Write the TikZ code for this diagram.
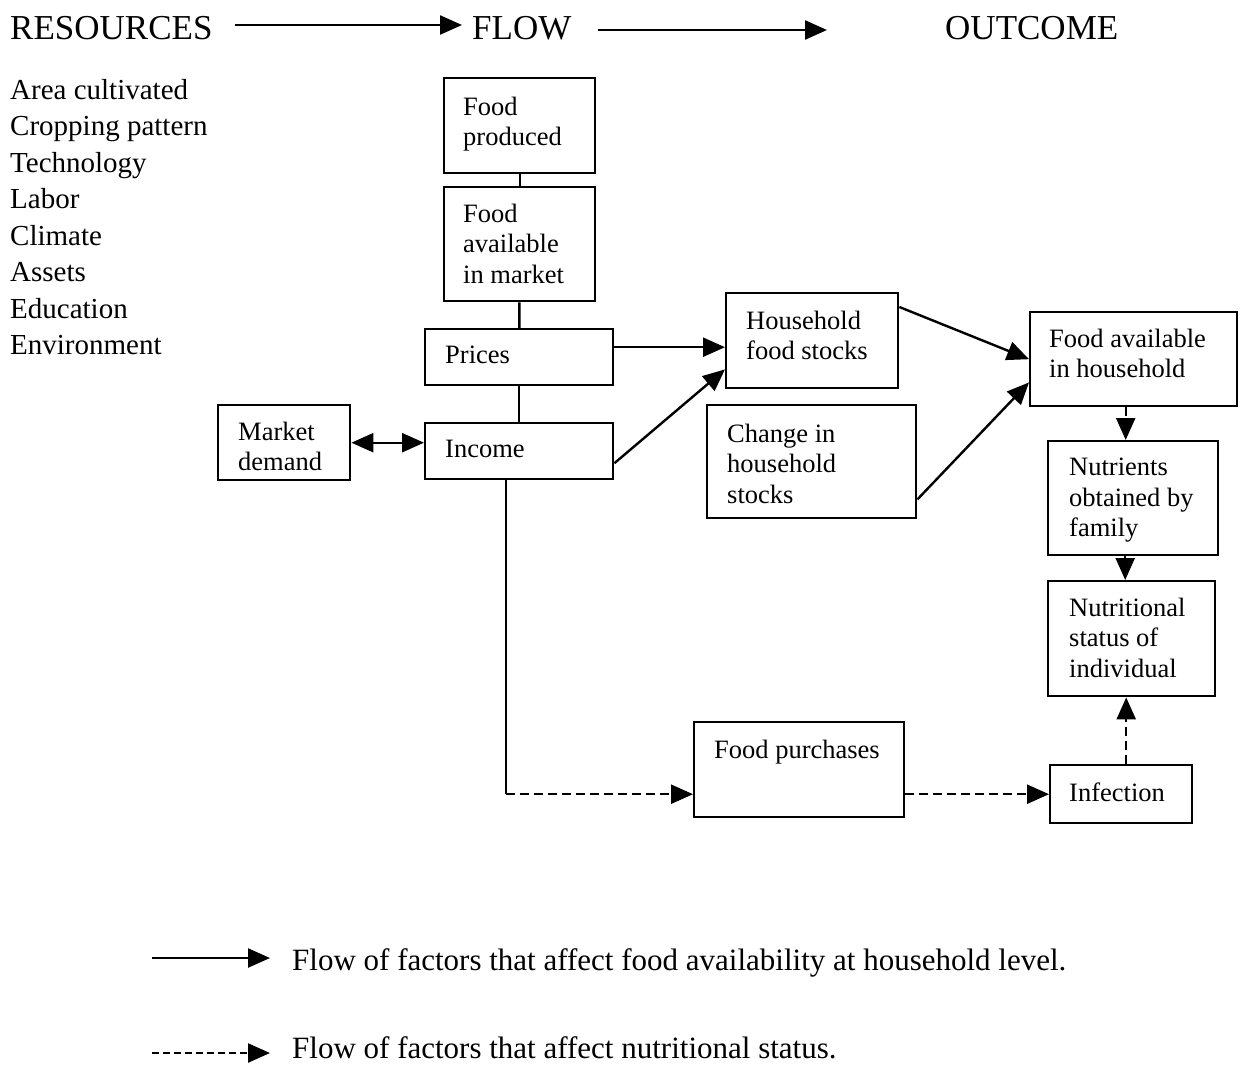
\documentclass[tikz,border=0pt]{standalone}
\usepackage{fontspec}
\setmainfont{Liberation Serif}
\usetikzlibrary{arrows.meta}
\tikzset{
  box/.style={draw, line width=2.4pt, rectangle, inner sep=0pt, anchor=north west},
  btxt/.style={anchor=north west, inner sep=0pt, align=left, font=\fontsize{26.5}{30.3}\selectfont},
  ln/.style={line width=2.4pt},
  arr/.style={line width=2.4pt, -{Triangle[length=22pt,width=19pt]}},
  arrtwo/.style={line width=2.4pt, {Triangle[length=22pt,width=19pt]}-{Triangle[length=22pt,width=19pt]}},
  dsh/.style={dash pattern=on 9pt off 5pt},
  head/.style={anchor=base west, inner sep=0pt, font=\fontsize{35}{40}\selectfont},
  legtxt/.style={anchor=base west, inner sep=0pt, font=\fontsize{31}{36}\selectfont},
}
\begin{document}
\begin{tikzpicture}[x=1pt,y=-1pt]
\useasboundingbox[fill=white] (0,0) rectangle (1245,1068);

% header
\node[head] (res) at (10,39) {RESOURCES};
\node[head] (flow) at (472,39) {FLOW};
\node[head] (out) at (945,39) {OUTCOME};
\coordinate (h1a) at (235,25);
\coordinate (h1b) at (462,25);
\coordinate (h2a) at (598,30);
\coordinate (h2b) at (827,30);
\draw[arr] (h1a) -- (h1b);
\draw[arr] (h2a) -- (h2b);

% resources list
\node[anchor=north west, inner sep=0pt, align=left, font=\fontsize{29}{36.5}\selectfont] (rlist) at (10,79)
 {Area cultivated\\Cropping pattern\\Technology\\Labor\\Climate\\Assets\\Education\\Environment};

% boxes
\node[box, minimum width=151pt, minimum height=95pt] (fprod) at (443,77) {};
\node[btxt] (fprodT) at (463,97) {Food\\produced};
\node[box, minimum width=151pt, minimum height=114pt] (fmkt) at (443,186) {};
\node[btxt] (fmktT) at (463,204) {Food\\available\\in market};
\node[box, minimum width=188pt, minimum height=56pt] (prices) at (424,328) {};
\node[btxt] (pricesT) at (445,346) {Prices};
\node[box, minimum width=132pt, minimum height=75pt] (mkt) at (217,404) {};
\node[btxt] (mktT) at (238,422) {Market\\demand};
\node[box, minimum width=188pt, minimum height=56pt] (income) at (424,422) {};
\node[btxt] (incomeT) at (445,440) {Income};
\node[box, minimum width=172pt, minimum height=95pt] (hfs) at (725,292) {};
\node[btxt] (hfsT) at (746,311) {Household\\food stocks};
\node[box, minimum width=209pt, minimum height=113pt] (chg) at (706,404) {};
\node[btxt] (chgT) at (727,424) {Change in\\household\\stocks};
\node[box, minimum width=207pt, minimum height=94pt] (fah) at (1029,311) {};
\node[btxt] (fahT) at (1049,329) {Food available\\in household};
\node[box, minimum width=170pt, minimum height=114pt] (nut) at (1047,440) {};
\node[btxt] (nutT) at (1069,458) {Nutrients\\obtained by\\family};
\node[box, minimum width=167pt, minimum height=115pt] (nst) at (1047,580) {};
\node[btxt] (nstT) at (1069,598) {Nutritional\\status of\\individual};
\node[box, minimum width=210pt, minimum height=95pt] (fpur) at (693,721) {};
\node[btxt] (fpurT) at (714,740) {Food purchases};
\node[box, minimum width=142pt, minimum height=58pt] (inf) at (1049,764) {};
\node[btxt] (infT) at (1069,783) {Infection};

% solid connectors
\draw[ln] (fprod) -- (fmkt);
\draw[ln] (fmkt) -- (prices);
\draw[ln] (prices) -- (income);
\draw[arr] ([yshift=10pt]prices.east) coordinate (pa) -- (pa -| hfs.west);
\draw[arr] ([yshift=-12pt]income.east) -- ([yshift=20pt]hfs.south west);
\draw[arrtwo] (mkt.east) -- (mkt.east -| income.west);
\draw[arr] ([yshift=-15pt]hfs.north east) -- (fah.west);
\draw[arr] ([yshift=20pt]chg.south east) -- ([yshift=25pt]fah.south west);

% income to food purchases
\coordinate (fpin) at ([yshift=-24.5pt]fpur.west);
\draw[ln] ([xshift=-13pt]income.south) coordinate (ib) -- (ib |- fpin);
\draw[arr, dsh] (ib |- fpin) -- (fpin);
\draw[arr, dsh] (fpin -| fpur.east) -- (inf.west);
\draw[arr, dsh] ([xshift=5pt]inf.north) coordinate (ia) -- (ia |- nst.south);
\draw[arr, dsh] ([xshift=-8pt]fah.south) coordinate (fa) -- (fa |- nut.north);
\draw[arr, dsh] ([xshift=-8pt]nut.south) coordinate (na) -- (na |- nst.north);

% legend
\coordinate (l1a) at (152,958);
\coordinate (l1b) at (270,958);
\coordinate (l2a) at (152,1053);
\coordinate (l2b) at (270,1053);
\draw[arr] (l1a) -- (l1b);
\draw[arr, dash pattern=on 7pt off 4pt] (l2a) -- (l2b);
\node[legtxt] (leg1) at (292,970) {Flow of factors that affect food availability at household level.};
\node[legtxt] (leg2) at (292,1058) {Flow of factors that affect nutritional status.};
\end{tikzpicture}
\end{document}
